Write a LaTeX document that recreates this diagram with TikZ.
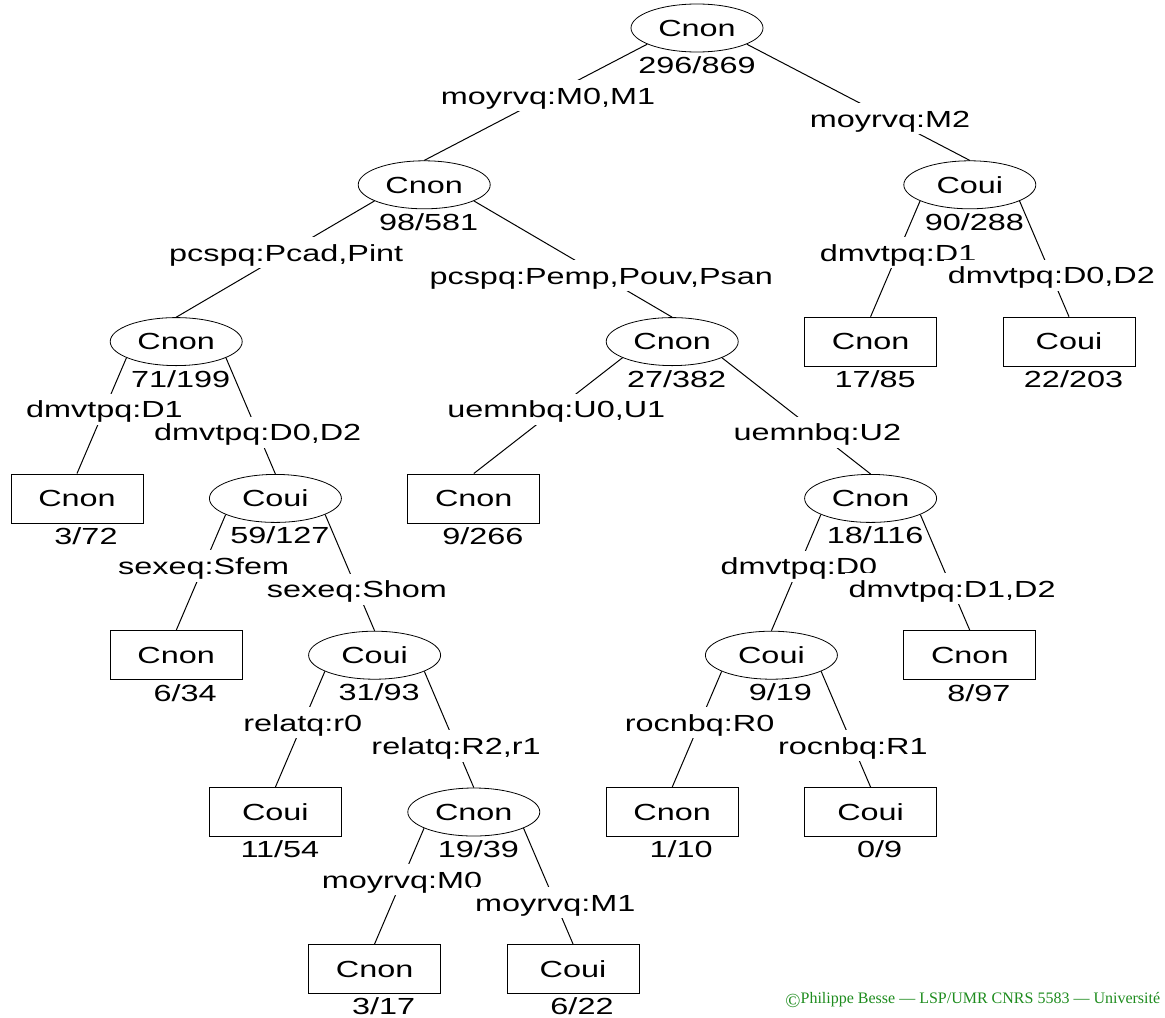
\documentclass[tikz,border=0pt]{standalone}
\usepackage{fontspec}
\usepackage{xcolor}
\usetikzlibrary{shapes.geometric}

\newfontfamily\treefont{Liberation Sans}[FakeStretch=1.39]
\newfontfamily\footfont{Liberation Serif}
\definecolor{footgreen}{RGB}{30,140,30}

\begin{document}
\begin{tikzpicture}[x=0.5pt, y=-0.5pt]
\tikzstyle{split} = [
	shape=ellipse,
	draw=black, %border of the node
	line width=0.4pt,
	minimum width=66pt, %size of the ellipse
	minimum height=24pt,
	inner sep=0pt,
	text height=8.35pt,
	text depth=0pt,
	font=\treefont\fontsize{11.65}{14}\selectfont
];
\tikzstyle{leaf} = [split, shape=rectangle, minimum height=24.5pt];
\tikzstyle{stat} = [anchor=base, inner sep=0pt, font=\treefont\fontsize{11.65}{14}\selectfont];
\tikzstyle{cut} = [
	fill=white, %hides the branch behind the text
	inner xsep=2pt,
	inner ysep=0pt,
	text height=12.1pt,
	text depth=3.5pt,
	font=\treefont\fontsize{11.65}{14}\selectfont
];
\tikzstyle{branch} = [line width=0.5pt, color=black];

\useasboundingbox (0,0) rectangle (1165,1017);

%root
\node[split] (N1) at (697,28) {Cnon};

%level 1
\node[split] (N2) at (424.2,184.8) {Cnon};
\node[split] (N3) at (969.8,184.8) {Coui};

%level 2
\node[split] (N4) at (176.2,341.6) {Cnon};
\node[split] (N5) at (672.2,341.6) {Cnon};
\node[leaf] (N6) at (870.6,341.6) {Cnon};
\node[leaf] (N7) at (1069,341.6) {Coui};

%level 3
\node[leaf] (N8) at (77,498.4) {Cnon};
\node[split] (N9) at (275.4,498.4) {Coui};
\node[leaf] (N10) at (473.8,498.4) {Cnon};
\node[split] (N11) at (870.6,498.4) {Cnon};

%level 4
\node[leaf] (N18) at (176.2,655.2) {Cnon};
\node[split] (N19) at (374.6,655.2) {Coui};
\node[split] (N22) at (771.4,655.2) {Coui};
\node[leaf] (N23) at (969.8,655.2) {Cnon};

%level 5
\node[leaf] (N38) at (275.4,812) {Coui};
\node[split] (N39) at (473.8,812) {Cnon};
\node[leaf] (N44) at (672.2,812) {Cnon};
\node[leaf] (N45) at (870.6,812) {Coui};

%level 6
\node[leaf] (N78) at (374.6,968.8) {Cnon};
\node[leaf] (N79) at (573,968.8) {Coui};

%counts under the nodes
\node[stat] (S1) at ([yshift=-10.5pt]N1.south) {296/869};
\node[stat] (S2) at ([yshift=-10.5pt]N2.south) {\ 98/581};
\node[stat] (S3) at ([yshift=-10.5pt]N3.south) {\ 90/288};
\node[stat] (S4) at ([yshift=-10.5pt]N4.south) {\ 71/199};
\node[stat] (S5) at ([yshift=-10.5pt]N5.south) {\ 27/382};
\node[stat] (S6) at ([yshift=-10.5pt]N6.south) {\ 17/85};
\node[stat] (S7) at ([yshift=-10.5pt]N7.south) {\ 22/203};
\node[stat] (S8) at ([yshift=-10.5pt]N8.south) {\ \ 3/72};
\node[stat] (S9) at ([yshift=-10.5pt]N9.south) {\ 59/127};
\node[stat] (S10) at ([yshift=-10.5pt]N10.south) {\ \ 9/266};
\node[stat] (S11) at ([yshift=-10.5pt]N11.south) {\ 18/116};
\node[stat] (S18) at ([yshift=-10.5pt]N18.south) {\ \ 6/34};
\node[stat] (S19) at ([yshift=-10.5pt]N19.south) {\ 31/93};
\node[stat] (S22) at ([yshift=-10.5pt]N22.south) {\ \ 9/19};
\node[stat] (S23) at ([yshift=-10.5pt]N23.south) {\ \ 8/97};
\node[stat] (S38) at ([yshift=-10.5pt]N38.south) {\ 11/54};
\node[stat] (S39) at ([yshift=-10.5pt]N39.south) {\ 19/39};
\node[stat] (S44) at ([yshift=-10.5pt]N44.south) {\ \ 1/10};
\node[stat] (S45) at ([yshift=-10.5pt]N45.south) {\ \ 0/9};
\node[stat] (S78) at ([yshift=-10.5pt]N78.south) {\ \ 3/17};
\node[stat] (S79) at ([yshift=-10.5pt]N79.south) {\ \ 6/22};

%branches with the splits
\draw[branch]
	(N1.198) edge node[cut, pos=.445] {moyrvq:M0,M1} (N2.north)
	(N1.342) edge node[cut, pos=.642] {moyrvq:M2} (N3.north)
	(N2.198) edge node[cut, pos=.445] {pcspq:Pcad,Pint} (N4.north)
	(N2.342) edge node[cut, pos=.642] {pcspq:Pemp,Pouv,Psan} (N5.north)
	(N3.198) edge node[cut, pos=.445] {dmvtpq:D1} (N6.north)
	(N3.342) edge node[cut, pos=.642] {dmvtpq:D0,D2} (N7.north)
	(N4.198) edge node[cut, pos=.445] {dmvtpq:D1} (N8.north)
	(N4.342) edge node[cut, pos=.642] {dmvtpq:D0,D2} (N9.north)
	(N5.198) edge node[cut, pos=.445] {uemnbq:U0,U1} (N10.north)
	(N5.342) edge node[cut, pos=.642] {uemnbq:U2} (N11.north)
	(N9.198) edge node[cut, pos=.445] {sexeq:Sfem} (N18.north)
	(N9.342) edge node[cut, pos=.642] {sexeq:Shom} (N19.north)
	(N11.198) edge node[cut, pos=.445] {dmvtpq:D0} (N22.north)
	(N11.342) edge node[cut, pos=.642] {dmvtpq:D1,D2} (N23.north)
	(N19.198) edge node[cut, pos=.445] {relatq:r0} (N38.north)
	(N19.342) edge node[cut, pos=.642] {relatq:R2,r1} (N39.north)
	(N22.198) edge node[cut, pos=.445] {rocnbq:R0} (N44.north)
	(N22.342) edge node[cut, pos=.642] {rocnbq:R1} (N45.north)
	(N39.198) edge node[cut, pos=.445] {moyrvq:M0} (N78.north)
	(N39.342) edge node[cut, pos=.642] {moyrvq:M1} (N79.north)
;

%footer
\node[anchor=base west, inner sep=0pt, text=footgreen, font=\footfont\fontsize{8}{10}\selectfont] (C) at (785,1003)
	{\raisebox{-2.2pt}{\scalebox{1.25}{\textcopyright}}Philippe Besse — LSP/UMR CNRS 5583 — Université};
\end{tikzpicture}
\end{document}
